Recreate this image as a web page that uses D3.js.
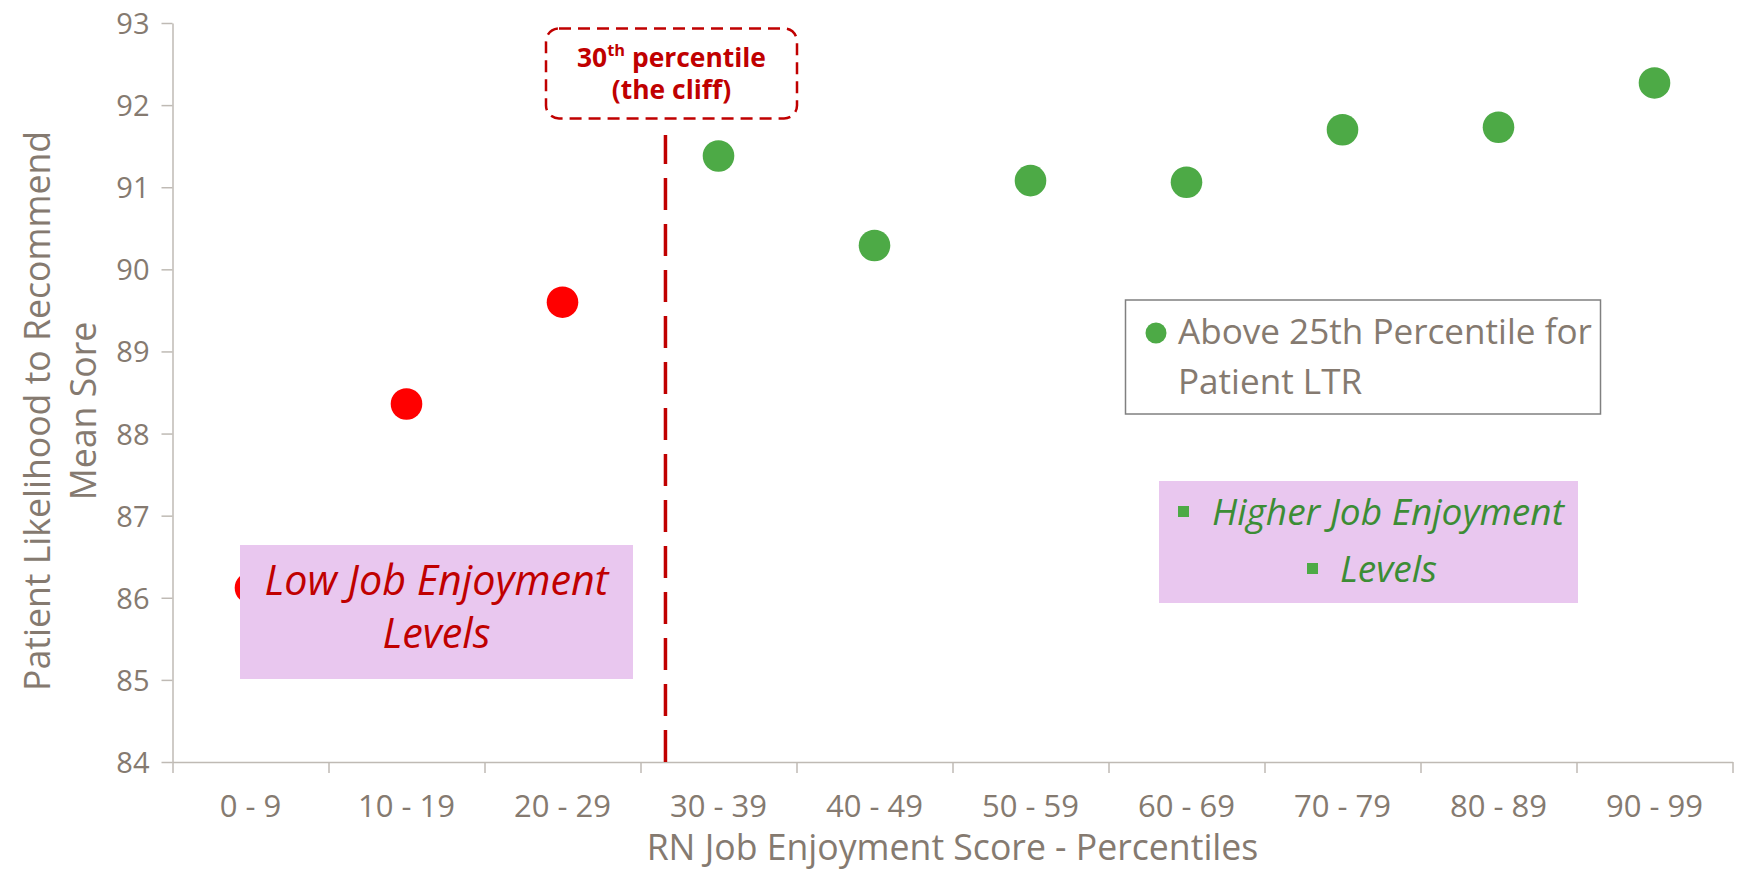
<!DOCTYPE html>
<html>
<head>
<meta charset="utf-8">
<script src="https://cdn.jsdelivr.net/npm/d3@7"></script>
<style>
  html, body { margin: 0; padding: 0; background: #fff; }
  svg { display: block; font-family: "Open Sans", "Noto Sans", sans-serif; }
</style>
</head>
<body>
<svg id="chart" width="1737" height="869"></svg>
<script>
// Percentile bands of the RN job enjoyment score
const categories = ["0 - 9", "10 - 19", "20 - 29", "30 - 39", "40 - 49",
                    "50 - 59", "60 - 69", "70 - 79", "80 - 89", "90 - 99"];
// Mean patient likelihood-to-recommend score per band
const meanScores = [86.12, 88.36, 89.60, 91.38, 90.29, 91.08, 91.06, 91.70, 91.73, 92.27];
// Bands below the cliff are shown in red, the rest in green
const lowBands = ["0 - 9", "10 - 19", "20 - 29"];
const yTicks = [84, 85, 86, 87, 88, 89, 90, 91, 92, 93];
// Position of the cliff marker, in band units from the left edge
const cliffAt = 3.16;

const W = 1737, H = 869;
const margin = { top: 23, right: 4.5, bottom: 107, left: 172.5 };
const axisGrey = "#BFBAB4";
const textGrey = "#857A70";
const darkRed = "#C00000";
const brightRed = "#FF0000";
const green = "#4DAA46";
const greenText = "#3C8D35";
const lavender = "#E9C7EF";

const svg = d3.select("#chart");

const x = d3.scaleBand().domain(categories)
  .range([margin.left, W - margin.right]).padding(0);
const xEdge = d3.scaleLinear().domain([0, categories.length])
  .range([margin.left, W - margin.right]);
const y = d3.scaleLinear().domain([d3.min(yTicks), d3.max(yTicks)])
  .range([H - margin.bottom, margin.top]);

// scale a text's font so that it spans the given width
function fitWidth(sel, width, base) {
  sel.attr("font-size", base);
  const w = sel.node().getComputedTextLength();
  sel.attr("font-size", base * width / w);
  return base * width / w;
}

// ---- y axis
const gy = svg.append("g")
  .attr("transform", `translate(${margin.left},0)`)
  .call(d3.axisLeft(y).tickValues(yTicks).tickSize(11).tickSizeOuter(0).tickPadding(12));
gy.select(".domain").attr("stroke", axisGrey).attr("stroke-width", 1.5);
gy.selectAll(".tick line").attr("stroke", axisGrey).attr("stroke-width", 1.5);
gy.selectAll(".tick text")
  .attr("fill", textGrey).attr("font-size", 29)
  .attr("font-family", "'Open Sans', sans-serif").attr("dy", "0.36em");

// ---- x axis: ticks on band edges, labels at band centres
const gxTicks = svg.append("g")
  .attr("transform", `translate(0,${H - margin.bottom})`)
  .call(d3.axisBottom(xEdge).tickValues(d3.range(categories.length + 1))
    .tickSize(11).tickSizeOuter(0).tickFormat(""));
gxTicks.select(".domain").attr("stroke", axisGrey).attr("stroke-width", 1.5);
gxTicks.selectAll(".tick line").attr("stroke", axisGrey).attr("stroke-width", 1.5);

const gxLabels = svg.append("g")
  .attr("transform", `translate(0,${H - margin.bottom})`)
  .call(d3.axisBottom(x).tickSize(0).tickPadding(0));
gxLabels.select(".domain").remove();
gxLabels.selectAll(".tick text")
  .attr("fill", textGrey).attr("font-size", 31)
  .attr("font-family", "'Open Sans', sans-serif")
  .attr("y", 55).attr("dy", null);

// ---- axis titles
const xTitle = svg.append("text")
  .attr("x", (margin.left + W - margin.right) / 2)
  .attr("y", 860)
  .attr("text-anchor", "middle")
  .attr("fill", textGrey)
  .text("RN Job Enjoyment Score - Percentiles");
const titleSize = fitWidth(xTitle, 612, 32);

const yTitle = svg.append("text")
  .attr("transform", "translate(0,411) rotate(-90)")
  .attr("text-anchor", "middle")
  .attr("fill", textGrey)
  .attr("font-size", titleSize);
yTitle.append("tspan").attr("x", 0).attr("y", 50).text("Patient Likelihood to Recommend");
yTitle.append("tspan").attr("x", 0).attr("y", 96).text("Mean Sore");

// ---- cliff marker
svg.append("line")
  .attr("x1", xEdge(cliffAt)).attr("x2", xEdge(cliffAt))
  .attr("y1", H - margin.bottom).attr("y2", 135)
  .attr("stroke", darkRed).attr("stroke-width", 3.5)
  .attr("stroke-dasharray", "32 14");

// annotation callout above the marker
const callout = { x: 546, y: 28.5, w: 251, h: 90 };
svg.append("rect")
  .attr("x", callout.x).attr("y", callout.y)
  .attr("width", callout.w).attr("height", callout.h)
  .attr("rx", 13).attr("ry", 13)
  .attr("fill", "#fff").attr("stroke", darkRed)
  .attr("stroke-width", 2.5).attr("stroke-dasharray", "12 7");

const cx = callout.x + callout.w / 2;
const c1 = svg.append("text")
  .attr("x", cx).attr("y", 66.5).attr("text-anchor", "middle")
  .attr("fill", darkRed).attr("font-weight", 700);
c1.append("tspan").text("30");
c1.append("tspan").attr("baseline-shift", "super").attr("font-size", "62%").text("th");
c1.append("tspan").text(" percentile");
fitWidth(c1, 189, 24);
const c2 = svg.append("text")
  .attr("x", cx).attr("y", 98.5).attr("text-anchor", "middle")
  .attr("fill", darkRed).attr("font-weight", 700)
  .attr("font-size", c1.attr("font-size"))
  .text("(the cliff)");

// ---- points
const points = categories.map((c, i) => ({ band: c, value: meanScores[i] }));
svg.append("g").selectAll("circle")
  .data(points)
  .join("circle")
  .attr("cx", d => x(d.band) + x.bandwidth() / 2)
  .attr("cy", d => y(d.value))
  .attr("r", 15.8)
  .attr("fill", d => lowBands.includes(d.band) ? brightRed : green);

// ---- legend
const lg = svg.append("g");
lg.append("rect")
  .attr("x", 1125.5).attr("y", 300).attr("width", 475).attr("height", 114)
  .attr("fill", "#fff").attr("stroke", "#808080").attr("stroke-width", 1.5);
lg.append("circle").attr("cx", 1156).attr("cy", 333).attr("r", 10.5).attr("fill", green);
const l1 = lg.append("text").attr("x", 1178).attr("y", 344).attr("fill", textGrey)
  .text("Above 25th Percentile for");
const legendSize = fitWidth(l1, 414, 32);
lg.append("text").attr("x", 1178).attr("y", 394).attr("fill", textGrey)
  .attr("font-size", legendSize).text("Patient LTR");

// ---- low enjoyment label
const lowBox = { x: 240, y: 545, w: 393, h: 134 };
svg.append("rect")
  .attr("x", lowBox.x).attr("y", lowBox.y).attr("width", lowBox.w).attr("height", lowBox.h)
  .attr("fill", lavender);
const lowT1 = svg.append("text")
  .attr("x", lowBox.x + lowBox.w / 2).attr("y", 595).attr("text-anchor", "middle")
  .attr("fill", darkRed).attr("font-style", "italic")
  .text("Low Job Enjoyment");
const lowSize = fitWidth(lowT1, 344, 36);
svg.append("text")
  .attr("x", lowBox.x + lowBox.w / 2).attr("y", 648).attr("text-anchor", "middle")
  .attr("fill", darkRed).attr("font-style", "italic").attr("font-size", lowSize)
  .text("Levels");

// ---- higher enjoyment label
const hiBox = { x: 1159, y: 481, w: 419, h: 122 };
svg.append("rect")
  .attr("x", hiBox.x).attr("y", hiBox.y).attr("width", hiBox.w).attr("height", hiBox.h)
  .attr("fill", lavender);
const hiT1 = svg.append("text")
  .attr("x", 1212).attr("y", 525)
  .attr("fill", greenText).attr("font-style", "italic")
  .text("Higher Job Enjoyment");
const hiSize = fitWidth(hiT1, 352, 32);
svg.append("text")
  .attr("x", 1340).attr("y", 582)
  .attr("fill", greenText).attr("font-style", "italic").attr("font-size", hiSize)
  .text("Levels");
svg.append("rect").attr("x", 1178).attr("y", 506).attr("width", 11).attr("height", 11).attr("fill", green);
svg.append("rect").attr("x", 1307).attr("y", 563).attr("width", 11).attr("height", 11).attr("fill", green);
</script>
</body>
</html>
